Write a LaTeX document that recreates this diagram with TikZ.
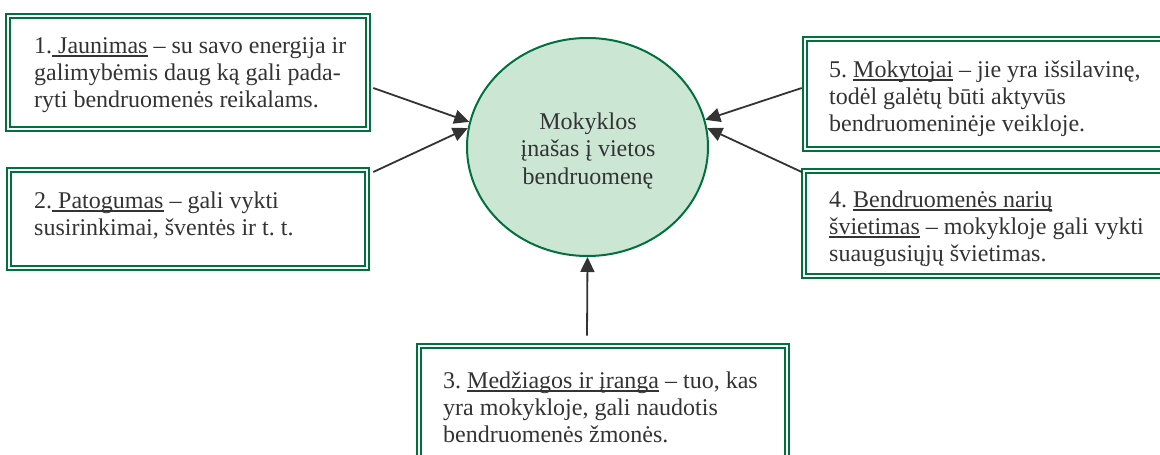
\documentclass[tikz,border=0pt]{standalone}
\usepackage{fontspec}
\setmainfont{Liberation Serif}
\usetikzlibrary{arrows.meta,calc,shapes.geometric}
\definecolor{G}{RGB}{0,112,60}
\definecolor{EF}{RGB}{204,230,212}
\definecolor{T}{RGB}{51,51,51}
\newcommand\uln[1]{\leavevmode\setbox0\hbox{#1}\rlap{\rule[-3.6pt]{\wd0}{1.5pt}}\box0\relax}
\frenchspacing
\begin{document}
\begin{tikzpicture}[x=1pt,y=-1pt,
  obox/.style={draw=G,line width=2.6pt,inner sep=0pt,rectangle},
  ibox/.style={draw=G,line width=1.8pt},
  txt/.style={inner sep=0pt,anchor=base west,text=T,font=\fontsize{24}{27.3}\selectfont\frenchspacing},
  ctxt/.style={inner sep=0pt,anchor=base,text=T,font=\fontsize{24}{27.6}\selectfont},
  arr/.style={draw=T,line width=1.8pt,-{Triangle[length=15pt,width=14pt]}}]
\useasboundingbox (0,0) rectangle (1160,455);
\clip (0,0) rectangle (1160,455);
% boxes
\node[obox,minimum width=364pt,minimum height=117pt] (b1) at (188,72.5) {};
\draw[ibox] ($(b1.north west)+(5.5,5.5)$) rectangle ($(b1.south east)+(-5.5,-5.5)$);
\node[obox,minimum width=362pt,minimum height=102pt] (b2) at (188,219) {};
\draw[ibox] ($(b2.north west)+(5.5,5.5)$) rectangle ($(b2.south east)+(-5.5,-5.5)$);
\node[obox,minimum width=377pt,minimum height=114pt] (b5) at (991.5,94) {};
\draw[ibox] ($(b5.north west)+(5.5,5.5)$) rectangle ($(b5.south east)+(-5.5,-5.5)$);
\node[obox,minimum width=378pt,minimum height=109pt] (b4) at (991,223.5) {};
\draw[ibox] ($(b4.north west)+(5.5,5.5)$) rectangle ($(b4.south east)+(-5.5,-5.5)$);
\node[obox,minimum width=372pt,minimum height=136pt] (b3) at (603,412) {};
\draw[ibox] ($(b3.north west)+(5.5,5.5)$) rectangle ($(b3.south east)+(-5.5,-5.5)$);
% texts
\node[txt] (t1) at (34,53) {\begin{tabular}[t]{@{}l@{}}1.\uln{\ Jaunimas} – su savo energija ir\\ galimybėmis daug ką gali pada-\\ ryti bendruomenės reikalams.\end{tabular}};
\node[txt] (t2) at (34,208) {\begin{tabular}[t]{@{}l@{}}2.\uln{\ Patogumas} – gali vykti\\ susirinkimai, šventės ir t. t.\end{tabular}};
\node[txt] (t5) at (829,77) {\begin{tabular}[t]{@{}l@{}}5. \uln{Mokytojai} – jie yra išsilavinę,\\ todėl galėtų būti aktyvūs\\ bendruomeninėje veikloje.\end{tabular}};
\node[txt] (t4) at (829,207) {\begin{tabular}[t]{@{}l@{}}4. \uln{Bendruomenės narių}\\ \uln{švietimas} – mokykloje gali vykti\\ suaugusiųjų švietimas.\end{tabular}};
\node[txt] (t3) at (443,388) {\begin{tabular}[t]{@{}l@{}}3. \uln{Medžiagos ir įranga} – tuo, kas\\ yra mokykloje, gali naudotis\\ bendruomenės žmonės.\end{tabular}};
% ellipse
\node[ellipse,draw=G,fill=EF,line width=2pt,minimum width=241pt,minimum height=218pt,inner sep=0pt] (e) at (587.5,147) {};
\node[ctxt] (et) at (588,129) {\begin{tabular}[t]{@{}c@{}}Mokyklos\\ įnašas į vietos\\ bendruomenę\end{tabular}};
% arrows
\draw[arr] ($(b1.east)+(2,15.5)$) -- (e.168);
\draw[arr] ($(b2.east)+(3,-47)$) -- (e.171);
\draw[arr] ($(b5.west)+(0,-6)$) -- (e.13.7);
\draw[arr] ($(b4.west)+(1,-51.5)$) -- (e.9);
\draw[arr] ($(b3.north)+(-16,-7)$) -- (e.south);
\end{tikzpicture}
\end{document}
